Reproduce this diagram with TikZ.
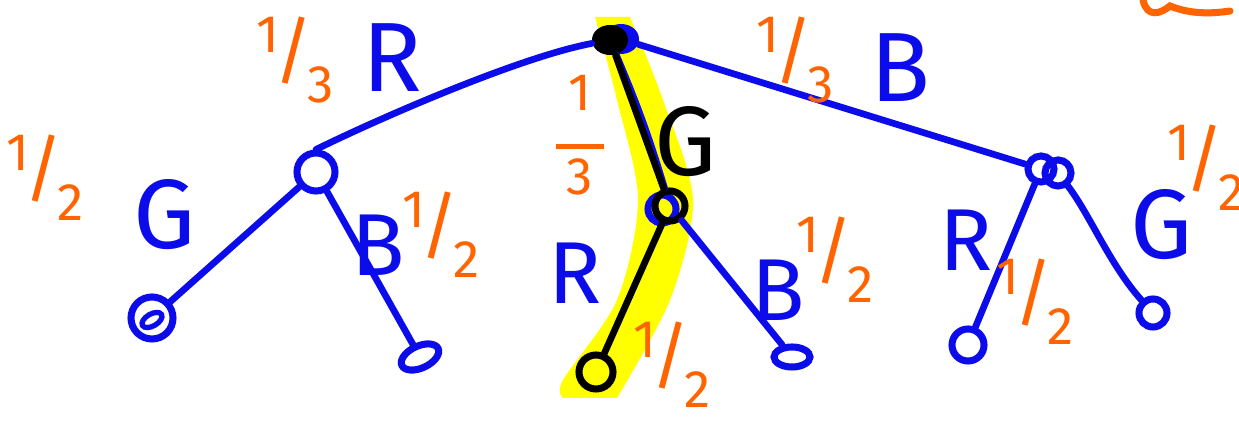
\documentclass[tikz,border=0pt]{standalone}
\usepackage{fontspec}
\setmainfont{Fira Sans}
\usetikzlibrary{shapes.geometric}
\definecolor{pblue}{RGB}{12,12,235}
\definecolor{porange}{RGB}{255,100,0}
\definecolor{pyellow}{RGB}{255,255,0}
\newcommand{\myfrac}[2]{\raisebox{0.45em}{#1}\kern-0.1em{\fontsize{21}{21}\selectfont/}\kern-0.1em\raisebox{-0.5em}{#2}}
\begin{document}
\begin{tikzpicture}[x=0.01cm,y=-0.01cm,
  edge/.style={pblue,line width=1.9pt,line cap=round},
  bedge/.style={black,line width=1.9pt,line cap=round},
  vtx/.style={circle,draw=pblue,line width=2pt,inner sep=0pt},
  bvtx/.style={circle,draw=black,line width=2pt,inner sep=0pt},
  lab/.style={pblue,font=\fontsize{28}{28}\selectfont,inner sep=0pt},
  prob/.style={porange,font=\fontsize{15}{15}\selectfont,inner sep=0pt}]
\useasboundingbox (0,0) rectangle (1239,422);
% highlight
\fill[pyellow] plot[smooth] coordinates {(595,17) (617,100) (638,200) (617,300) (563,380) (563,398)}
  -- plot[smooth] coordinates {(617,398) (670,300) (693,200) (663,100) (630,17)} -- cycle;
% vertices
\node[ellipse,fill=pblue,minimum width=0.36cm,minimum height=0.3cm,inner sep=0pt] (rootb) at (621,39) {};
\node[ellipse,fill=black,minimum width=0.36cm,minimum height=0.3cm,inner sep=0pt] (root) at (610,40) {};
\node[vtx,minimum size=0.38cm] (L) at (316,172) {};
\node[vtx,minimum size=0.26cm] (Rn) at (1041,169) {};
\node[vtx,minimum size=0.26cm] (Rn2) at (1058,173) {};
\node[vtx,minimum size=0.28cm] (Mb) at (662,209) {};
\node[bvtx,minimum size=0.3cm] (M) at (670,206) {};
\node[vtx,minimum size=0.42cm] (LL) at (152,318) {};
\node[ellipse,draw=pblue,line width=2pt,minimum width=0.4cm,minimum height=0.22cm,rotate=25,inner sep=0pt] (LR) at (420,357) {};
\node[bvtx,minimum size=0.34cm] (ML) at (596,372) {};
\node[ellipse,draw=pblue,line width=2pt,minimum width=0.36cm,minimum height=0.2cm,inner sep=0pt] (MR) at (792,357) {};
\node[vtx,minimum size=0.32cm] (RL) at (968,345) {};
\node[vtx,minimum size=0.28cm] (RR) at (1153,313) {};
\node[ellipse,draw=pblue,line width=1.5pt,minimum width=0.22cm,minimum height=0.12cm,rotate=30,inner sep=0pt] (LLi) at (152,320) {};
% edges
\draw[edge] (root) .. controls (520,57) and (380,118) .. (L.north);
\draw[edge] (rootb) -- (Rn);
\draw[edge] (root) to[bend left=3] (M);
\draw[bedge] (root) -- (M);
\draw[bedge] (M) -- (ML);
\draw[edge] (M) -- (MR);
\draw[edge] (L) -- (LL);
\draw[edge] (L) -- (LR);
\draw[edge] (Rn) -- (RL);
\draw[edge] (Rn2) .. controls (1090,215) and (1110,265) .. (RR);
% letters
\node[lab] (tR) at (392,58) {R};
\node[lab] (tB) at (900,68) {B};
\node[lab,black] (tG) at (686,142) {G};
\node[lab] (tGL) at (165,215) {G};
\node[lab,font=\fontsize{25}{25}\selectfont] (tBL) at (378,245) {B};
\node[lab,font=\fontsize{25}{25}\selectfont] (tRM) at (575,273) {R};
\node[lab,font=\fontsize{25}{25}\selectfont] (tBM) at (778,290) {B};
\node[lab,font=\fontsize{25}{25}\selectfont] (tRR) at (966,240) {R};
\node[lab] (tGR) at (1162,225) {G};
% probabilities
\node[prob] (p1) at (295,60) {\myfrac{1}{3}};
\node[prob] (p2) at (795,60) {\myfrac{1}{3}};
\node[prob,align=center] (p3) at (580,135) {1\\[-4pt]\rule{0.9em}{1.4pt}\\[-2pt]3};
\node[prob] (p4) at (45,178) {\myfrac{1}{2}};
\node[prob] (p5) at (441,235) {\myfrac{1}{2}};
\node[prob] (p6) at (835,260) {\myfrac{1}{2}};
\node[prob] (p7) at (672,365) {\myfrac{1}{2}};
\node[prob] (p8) at (1035,302) {\myfrac{1}{2}};
\node[prob] (p9) at (1206,168) {\myfrac{1}{2}};
\draw[porange,line width=2pt,line cap=round] (1143,0) .. controls (1147,18) and (1160,14) .. (1170,6) .. controls (1190,14) and (1210,14) .. (1230,11);
\end{tikzpicture}
\end{document}
